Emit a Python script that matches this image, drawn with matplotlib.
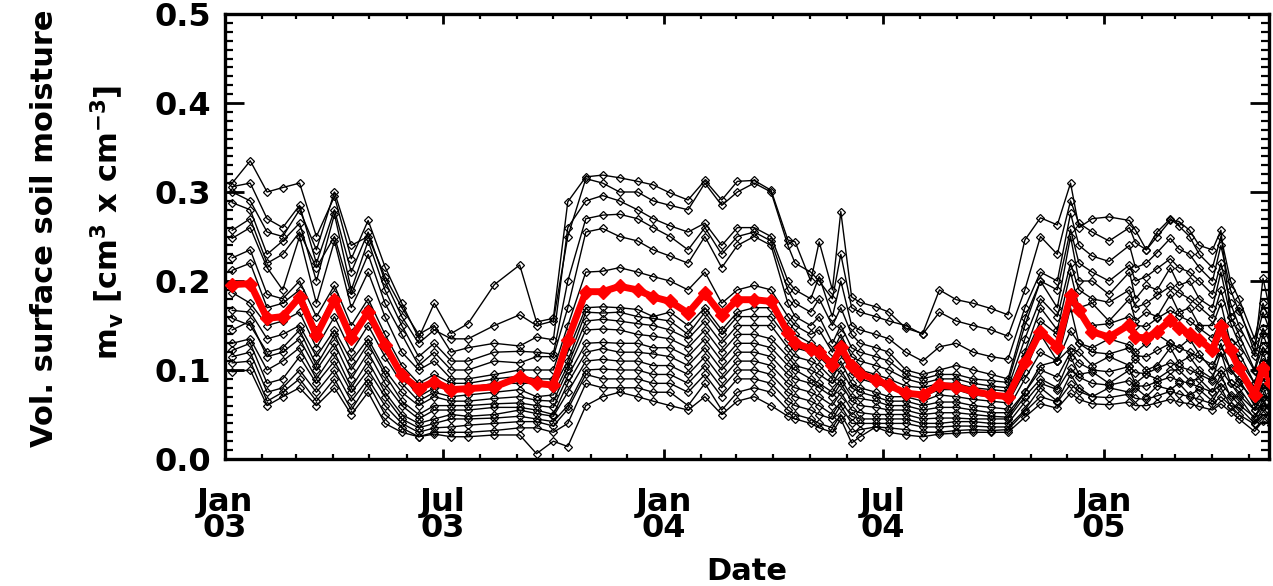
import datetime as dt

import matplotlib
matplotlib.use("Agg")
import matplotlib.dates as mdates
import matplotlib.pyplot as plt
from matplotlib.ticker import MultipleLocator, FormatStrFormatter

# acquisition dates shared by all stations
dates = [
    "2003-01-07", "2003-01-22", "2003-02-05", "2003-02-18", "2003-03-04", "2003-03-18",
    "2003-04-02", "2003-04-16", "2003-04-30", "2003-05-14", "2003-05-28", "2003-06-11",
    "2003-06-24", "2003-07-08", "2003-07-22", "2003-08-13", "2003-09-03", "2003-09-17",
    "2003-10-01", "2003-10-13", "2003-10-28", "2003-11-11", "2003-11-25", "2003-12-10",
    "2003-12-23", "2004-01-06", "2004-01-21", "2004-02-04", "2004-02-18", "2004-03-02",
    "2004-03-16", "2004-03-30", "2004-04-13", "2004-04-19", "2004-05-02", "2004-05-09",
    "2004-05-20", "2004-05-27", "2004-06-05", "2004-06-12", "2004-06-25", "2004-07-06",
    "2004-07-20", "2004-08-03", "2004-08-17", "2004-08-31", "2004-09-14", "2004-09-29",
    "2004-10-13", "2004-10-27", "2004-11-09", "2004-11-23", "2004-12-04", "2004-12-11",
    "2004-12-22", "2005-01-05", "2005-01-22", "2005-01-27", "2005-02-05", "2005-02-14",
    "2005-02-25", "2005-03-04", "2005-03-13", "2005-03-21", "2005-04-01", "2005-04-08",
    "2005-04-16", "2005-04-23", "2005-05-06", "2005-05-13", "2005-05-20",
]

# mean soil moisture (red)
mean_mv = [
    0.196, 0.197, 0.158, 0.160, 0.182, 0.139, 0.179, 0.136, 0.165, 0.128, 0.094, 0.079, 0.087,
    0.078, 0.079, 0.081, 0.092, 0.085, 0.083,
    0.134, 0.188, 0.188, 0.194, 0.190, 0.182, 0.177, 0.164, 0.186, 0.162, 0.179, 0.179, 0.177,
    0.142, 0.130, 0.124, 0.120, 0.106, 0.126, 0.104, 0.096, 0.089, 0.083,
    0.074, 0.072, 0.083, 0.081, 0.076, 0.072, 0.070,
    0.109, 0.143, 0.126, 0.184, 0.167, 0.143, 0.137, 0.151, 0.137, 0.136, 0.143, 0.156,
    0.147, 0.141, 0.134, 0.122, 0.149, 0.122, 0.102, 0.072, 0.102, 0.085,
]

# single stations (black)
st01 = [
    .31, .335, .30, .305, .31, .25, .295, .225, .268, .216, .175, .136, .175,
    .141, .152, .196, .218, .154, .158,
    .289, .317, .319, .316, .312, .308, .299, .291, .313, .291, .312, .313, .302,
    .246, .244, .20, .244, .19, .278, .182, .176, .171, .165,
    .147, .141, .19, .179, .175, .169, .162,
    .246, .271, .263, .31, .26, .27, .272, .268, .257, .235, .25, .268, .267, .257, .24,
    .235, .257, .16, .17, .12, .203, .16,
]
st02 = [
    .306, .31, .27, .26, .285, .22, .28, .21, .255, .20, .16, .13, .145,
    .135, .135, .15, .162, .15, .155,
    .25, .315, .31, .30, .30, .29, .285, .28, .31, .285, .30, .31, .30,
    .24, .22, .21, .20, .18, .23, .17, .165, .16, .155,
    .15, .14, .165, .155, .15, .145, .138,
    .19, .25, .23, .29, .265, .255, .245, .26, .243, .235, .255, .27, .262, .25, .23,
    .215, .25, .20, .18, .135, .175, .15,
]
st03 = [
    .30, .29, .255, .25, .28, .235, .30, .24, .25, .205, .17, .14, .15,
    .12, .125, .13, .127, .137, .134,
    .26, .29, .296, .29, .28, .27, .262, .255, .265, .24, .26, .26, .25,
    .20, .19, .18, .205, .16, .20, .15, .145, .14, .135,
    .12, .11, .126, .13, .12, .115, .112,
    .17, .21, .20, .276, .24, .228, .222, .24, .215, .22, .232, .248, .236, .23, .215,
    .20, .24, .19, .166, .127, .165, .14,
]
st04 = [
    .288, .28, .23, .245, .265, .20, .275, .19, .245, .19, .15, .115, .13,
    .11, .11, .12, .121, .12, .118,
    .20, .27, .274, .275, .27, .26, .25, .235, .26, .23, .25, .255, .245,
    .19, .175, .165, .18, .15, .17, .14, .13, .125, .12,
    .10, .095, .10, .105, .10, .095, .09,
    .158, .20, .19, .258, .22, .21, .20, .218, .20, .205, .214, .225, .215, .21, .20,
    .185, .22, .175, .15, .116, .147, .128,
]
st05 = [
    .257, .27, .22, .23, .255, .215, .25, .185, .23, .175, .14, .105, .12,
    .10, .10, .11, .108, .115, .115,
    .17, .255, .259, .25, .245, .235, .228, .22, .25, .215, .24, .25, .24,
    .175, .16, .15, .16, .13, .15, .125, .12, .115, .11,
    .095, .09, .095, .095, .09, .088, .086,
    .15, .20, .17, .25, .20, .20, .185, .21, .18, .195, .19, .215, .195, .20, .18,
    .17, .21, .16, .14, .10, .14, .115,
]
st06 = [
    .248, .26, .215, .19, .25, .175, .245, .17, .21, .16, .12, .10, .11,
    .09, .09, .095, .10, .10, .10,
    .15, .21, .211, .215, .21, .205, .20, .19, .21, .175, .19, .195, .19,
    .16, .15, .14, .145, .12, .14, .115, .11, .105, .10,
    .09, .085, .09, .09, .085, .082, .08,
    .135, .18, .16, .22, .19, .18, .176, .19, .17, .175, .184, .194, .187, .18, .171,
    .158, .19, .153, .13, .099, .126, .112,
]
st07 = [
    .226, .235, .185, .18, .20, .16, .195, .15, .18, .14, .105, .085, .095,
    .085, .085, .09, .093, .09, .09,
    .12, .17, .171, .17, .168, .16, .165, .15, .17, .145, .165, .17, .17,
    .15, .14, .13, .125, .11, .13, .105, .10, .095, .09,
    .082, .08, .085, .085, .08, .078, .076,
    .12, .17, .145, .21, .17, .175, .155, .18, .155, .165, .16, .185, .165, .17, .15,
    .15, .175, .13, .12, .085, .12, .095,
]
st08 = [
    .212, .22, .17, .175, .19, .145, .185, .135, .17, .13, .095, .07, .08,
    .08, .08, .085, .085, .085, .08,
    .11, .165, .164, .165, .16, .158, .155, .14, .165, .14, .16, .16, .16,
    .135, .125, .12, .115, .10, .12, .095, .09, .085, .08,
    .075, .07, .078, .078, .072, .07, .068,
    .116, .155, .14, .186, .165, .15, .152, .16, .15, .149, .158, .167, .161, .155, .147,
    .136, .155, .132, .112, .085, .109, .096,
]
st09 = [
    .187, .175, .15, .155, .165, .125, .16, .12, .15, .115, .085, .065, .075,
    .07, .072, .075, .078, .07, .072,
    .105, .155, .157, .155, .152, .15, .145, .135, .155, .13, .15, .15, .15,
    .125, .115, .11, .105, .09, .11, .085, .08, .075, .07,
    .07, .065, .072, .07, .067, .065, .063,
    .098, .14, .11, .17, .13, .125, .135, .128, .12, .13, .14, .13, .125, .135, .118,
    .10, .13, .10, .09, .06, .085, .07,
]
st10 = [
    .167, .165, .135, .14, .15, .115, .145, .11, .135, .10, .075, .06, .07,
    .065, .065, .068, .07, .066, .065,
    .10, .145, .146, .145, .14, .138, .135, .125, .145, .12, .14, .14, .135,
    .115, .105, .10, .095, .085, .10, .08, .075, .07, .065,
    .065, .06, .064, .064, .06, .058, .056,
    .09, .12, .11, .144, .13, .12, .118, .125, .116, .115, .122, .13, .125, .12, .114,
    .106, .12, .102, .086, .066, .084, .074,
]
st11 = [
    .158, .15, .12, .125, .145, .105, .14, .10, .13, .095, .065, .05, .06,
    .06, .06, .062, .063, .06, .058,
    .093, .13, .131, .13, .13, .125, .125, .115, .135, .11, .13, .13, .125,
    .105, .10, .09, .085, .075, .09, .07, .068, .065, .06,
    .06, .055, .058, .058, .055, .052, .052,
    .075, .105, .11, .125, .12, .105, .115, .105, .112, .10, .105, .125, .108, .115, .10,
    .09, .12, .085, .08, .055, .08, .06,
]
st12 = [
    .145, .155, .115, .12, .135, .10, .13, .09, .12, .085, .06, .045, .055,
    .055, .055, .058, .058, .055, .05,
    .085, .12, .124, .12, .12, .118, .115, .105, .125, .10, .12, .12, .115,
    .095, .09, .085, .08, .07, .085, .065, .06, .058, .055,
    .055, .05, .052, .052, .05, .048, .047,
    .075, .10, .092, .12, .108, .10, .098, .104, .097, .096, .102, .108, .104, .10, .095,
    .088, .10, .085, .072, .055, .07, .062,
]
st13 = [
    .13, .135, .10, .11, .125, .09, .12, .08, .11, .075, .05, .04, .045,
    .05, .048, .05, .055, .051, .048,
    .075, .11, .112, .11, .11, .105, .105, .095, .115, .09, .11, .11, .105,
    .085, .08, .075, .07, .06, .075, .055, .052, .05, .05,
    .05, .045, .046, .046, .045, .045, .045,
    .07, .09, .08, .115, .095, .098, .085, .10, .085, .095, .09, .10, .10, .088, .09,
    .075, .095, .07, .07, .045, .068, .05,
]
st14 = [
    .122, .13, .085, .09, .115, .085, .11, .075, .10, .07, .045, .035, .04,
    .045, .045, .046, .048, .045, .042,
    .06, .10, .101, .10, .10, .095, .095, .085, .105, .08, .10, .10, .095,
    .075, .07, .065, .06, .05, .065, .048, .045, .045, .045,
    .045, .04, .04, .042, .042, .04, .04,
    .064, .085, .078, .102, .092, .085, .083, .088, .082, .082, .087, .092, .088, .085, .081,
    .075, .085, .072, .061, .047, .06, .053,
]
st15 = [
    .115, .12, .075, .08, .10, .075, .10, .065, .09, .06, .04, .03, .035,
    .036, .038, .04, .042, .042, .037,
    .056, .095, .09, .09, .09, .085, .085, .075, .095, .07, .09, .09, .085,
    .065, .06, .055, .05, .045, .06, .04, .04, .04, .04,
    .04, .036, .036, .037, .037, .036, .036,
    .055, .08, .065, .095, .08, .07, .08, .075, .08, .07, .082, .078, .085, .072, .078,
    .065, .08, .06, .058, .04, .058, .045,
]
st16 = [
    .108, .11, .065, .075, .09, .065, .09, .055, .085, .05, .035, .025, .03,
    .03, .03, .032, .035, .035, .03,
    .04, .085, .08, .08, .08, .075, .075, .06, .085, .055, .075, .08, .075,
    .055, .05, .045, .04, .035, .05, .03, .033, .036, .035,
    .033, .03, .03, .032, .033, .032, .033,
    .053, .07, .064, .084, .076, .07, .069, .073, .068, .067, .071, .076, .073, .07, .067,
    .062, .07, .06, .05, .039, .049, .043,
]
st17 = [
    .098, .10, .06, .07, .08, .06, .08, .05, .075, .04, .03, .025, .028,
    .025, .025, .027, .027, .006, .02,
    .014, .06, .07, .075, .07, .065, .06, .055, .07, .05, .065, .07, .06,
    .048, .045, .04, .035, .03, .045, .018, .025, .036, .03,
    .027, .025, .028, .029, .03, .03, .03,
    .047, .062, .057, .074, .067, .062, .061, .064, .06, .06, .063, .067, .064, .062, .059,
    .055, .062, .053, .045, .031, .043, .038,
]
stations = [st01, st02, st03, st04, st05, st06, st07, st08, st09, st10,
            st11, st12, st13, st14, st15, st16, st17]

x_start = "2003-01-01"
x_end = "2005-05-18"

plt.rcParams["font.family"] = "DejaVu Sans"
plt.rcParams["font.weight"] = "bold"
plt.rcParams["mathtext.fontset"] = "dejavusans"
plt.rcParams["mathtext.default"] = "bf"

W, H = 1273, 586
fig = plt.figure(figsize=(W / 100, H / 100), dpi=100)
ax = fig.add_axes([225 / W, (H - 459) / H, (1269 - 225) / W, (459 - 14) / H])

t = [dt.datetime.strptime(d, "%Y-%m-%d") for d in dates]

for values in stations:
    ax.plot(t, values, color="black", linewidth=1.0, marker="D", markersize=4.2,
            markerfacecolor="none", markeredgewidth=0.9)
ax.plot(t, mean_mv, color="red", linewidth=5, marker="D", markersize=7,
        markerfacecolor="red", markeredgecolor="red", zorder=5)

ax.set_xlim(dt.datetime.strptime(x_start, "%Y-%m-%d"), dt.datetime.strptime(x_end, "%Y-%m-%d"))
ax.set_ylim(0.0, 0.5)

ax.xaxis.set_major_locator(mdates.MonthLocator(bymonth=[1, 7]))
ax.xaxis.set_minor_locator(mdates.MonthLocator())
ax.xaxis.set_major_formatter(mdates.DateFormatter("%b\n%y"))
ax.yaxis.set_major_locator(MultipleLocator(0.1))
ax.yaxis.set_minor_locator(MultipleLocator(0.01))
ax.yaxis.set_major_formatter(FormatStrFormatter("%.1f"))

ax.tick_params(axis="both", which="both", direction="in", top=True, right=True)
ax.tick_params(axis="y", which="major", length=14, width=2.0, labelsize=23, pad=10)
ax.tick_params(axis="y", which="minor", length=6, width=1.6)
ax.tick_params(axis="x", which="major", length=7, width=2.0, labelsize=23, pad=20)
ax.tick_params(axis="x", which="minor", length=3.5, width=1.6)
for label in ax.get_xticklabels():
    label.set_linespacing(0.8)

for side in ["left", "bottom", "top", "right"]:
    ax.spines[side].set_linewidth(2.4)

fig.text(45 / W, (H - 228) / H, "Vol. surface soil moisture", rotation=90,
         ha="center", va="center", fontsize=22, fontweight="bold")
fig.text(107 / W, (H - 222) / H, r"m$_\mathbf{v}$ [cm$^\mathbf{3}$ x cm$^\mathbf{-3}$]",
         rotation=90, ha="center", va="center", fontsize=22, fontweight="bold")
fig.text(747 / W, (H - 571) / H, "Date", ha="center", va="center", fontsize=22,
         fontweight="bold")

fig.savefig("out.png", dpi=100)
